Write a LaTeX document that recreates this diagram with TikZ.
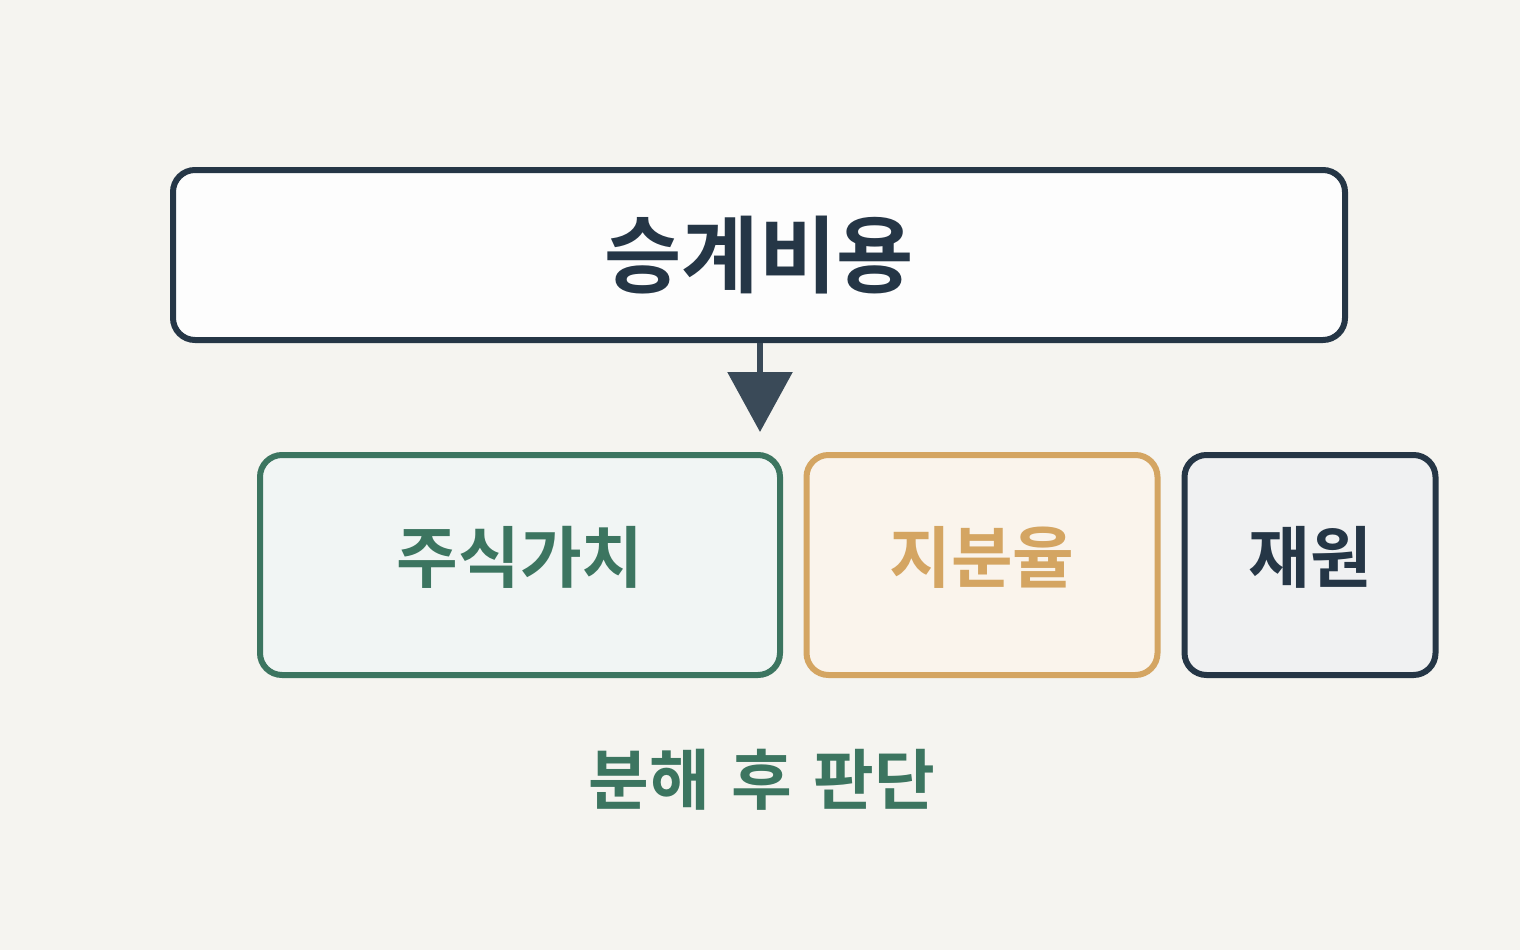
\documentclass[tikz,border=0pt]{standalone}
\usepackage{fontspec}
\newfontfamily\kr{Noto Sans CJK KR}[BoldFont={* Bold}]
\usetikzlibrary{arrows.meta}
\definecolor{bgc}{HTML}{F5F4F0}
\definecolor{navy}{HTML}{253646}
\definecolor{slate}{HTML}{3A4A58}
\definecolor{grn}{HTML}{3C7560}
\definecolor{gold}{HTML}{D4A562}
\begin{document}
\begin{tikzpicture}[x=1pt, y=-1pt,
  box/.style={draw, rounded corners=22pt, line width=6pt, inner sep=0pt, minimum height=220pt},
  lbl/.style={font=\kr\bfseries\fontsize{67}{75}\selectfont},
  arrow/.style={draw=slate, line width=6pt, -{Triangle[length=60pt,width=64pt]}}
]
  \fill[bgc] (0,0) rectangle (1520,950);
  \node[box, draw=navy, fill=white!60!bgc!40!white, text=navy, minimum width=1172pt, minimum height=170pt, font=\kr\bfseries\fontsize{84}{92}\selectfont] (cost) at (759,255) {승계비용};
  \node[box, draw=grn, fill=grn!7!white, minimum width=520pt] (value) at (520,565) {};
  \node[box, draw=gold, fill=gold!12!white, minimum width=351pt] (share) at (982,565) {};
  \node[box, draw=navy, fill=navy!7!white, minimum width=251pt] (fund) at (1310,565) {};
  \node[lbl, text=grn] (valuet) at ([yshift=8pt]value.center) {주식가치};
  \node[lbl, text=gold] (sharet) at ([yshift=8pt]share.center) {지분율};
  \node[lbl, text=navy] (fundt) at ([yshift=8pt]fund.center) {재원};
  \coordinate (tip) at (760,432);
  \draw[arrow] (cost.south -| tip) -- (tip);
  \node[text=grn, font=\kr\bfseries\fontsize{66}{74}\selectfont] (judge) at (762,780) {분해\hspace{0.1em} 후\hspace{0.1em} 판단};
\end{tikzpicture}
\end{document}
